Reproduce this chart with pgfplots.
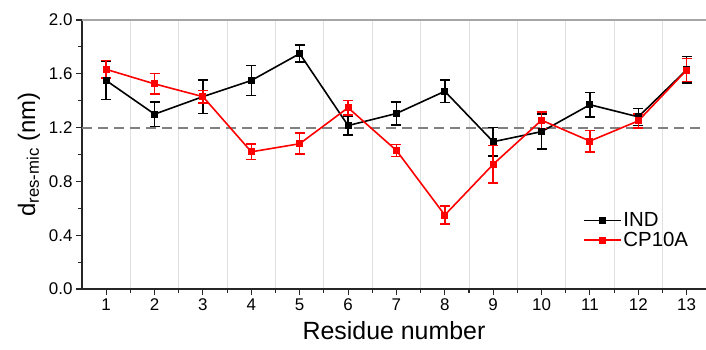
\documentclass[border=0pt]{standalone}
\usepackage{pgfplots}
\pgfplotsset{compat=1.18}
\usepackage{fontspec}
\setmainfont{Liberation Sans}
\begin{document}
\begin{tikzpicture}[x=1bp,y=1bp]
\useasboundingbox (0,0) rectangle (706,349);
\begin{axis}[
  at={(82bp,60bp)}, anchor=south west,
  scale only axis, width=624bp, height=269bp,
  xmin=0.5, xmax=13.4, ymin=0, ymax=2.0,
  axis x line*=bottom, axis y line*=left,
  axis line style={-, black!85, line width=1.1bp},
  xtick={1,...,13},
  minor xtick={1.5,2.5,...,12.5},
  ytick={0,0.4,0.8,1.2,1.6,2.0},
  minor ytick={0.2,0.6,1.0,1.4,1.8},
  tick align=outside,
  major tick length=6bp, minor tick length=4bp,
  every tick/.style={black!85, line width=1.1bp},
  xminorgrids=true,
  minor grid style={black!12, line width=0.9bp},
  yticklabel style={/pgf/number format/.cd, fixed, fixed zerofill, precision=1},
  /pgf/number format/assume math mode=true,
  tick label style={font=\fontsize{17}{20}\selectfont},
  xlabel={Residue number},
  ylabel={d\textsubscript{res-mic} (nm)},
  xlabel style={font=\fontsize{25}{28}\selectfont, yshift=-4bp},
  ylabel style={font=\fontsize{24}{27}\selectfont, yshift=2bp},
  legend style={draw=none, fill=none, at={(0.803,0.29)}, anchor=north west,
    font=\fontsize{20.5}{24}\selectfont, row sep=1bp, inner sep=0pt,
    nodes={inner sep=1.5bp}},
  legend cell align=left,
  legend image code/.code={\draw[mark repeat=2,mark phase=2,#1] plot coordinates {(0bp,0bp) (18.5bp,0bp) (37bp,0bp)};},
  clip=false,
]
\draw[gray!70, line width=1.1bp] (rel axis cs:0,1) -- (rel axis cs:1,1);
\addplot[forget plot, gray, line width=2bp, dash pattern=on 10bp off 6bp] coordinates {(0.5,1.2) (13.4,1.2)};
\addplot[black, line width=1.6bp, mark=square*, mark size=2.7bp, mark options={solid},
  error bars/.cd, y dir=both, y explicit,
  error bar style={black, line width=1.5bp},
  error mark options={rotate=90, mark size=5bp, black, line width=1.5bp}]
  table[x=x, y=y, y error=e] {
x y e
1 1.55 0.14
2 1.30 0.09
3 1.43 0.125
4 1.55 0.11
5 1.75 0.063
6 1.215 0.07
7 1.305 0.085
8 1.47 0.083
9 1.095 0.105
10 1.17 0.13
11 1.37 0.09
12 1.28 0.063
13 1.63 0.10
};
\addlegendentry{IND}
\addplot[red, line width=1.6bp, mark=square*, mark size=2.7bp, mark options={solid},
  error bars/.cd, y dir=both, y explicit,
  error bar style={red, line width=1.5bp},
  error mark options={rotate=90, mark size=5bp, red, line width=1.5bp}]
  table[x=x, y=y, y error=e] {
x y e
1 1.633 0.065
2 1.525 0.077
3 1.43 0.047
4 1.02 0.057
5 1.08 0.078
6 1.348 0.053
7 1.03 0.046
8 0.55 0.067
9 0.927 0.14
10 1.255 0.06
11 1.10 0.08
12 1.25 0.052
13 1.628 0.086
};
\addlegendentry{CP10A}
\end{axis}
\end{tikzpicture}
\end{document}
